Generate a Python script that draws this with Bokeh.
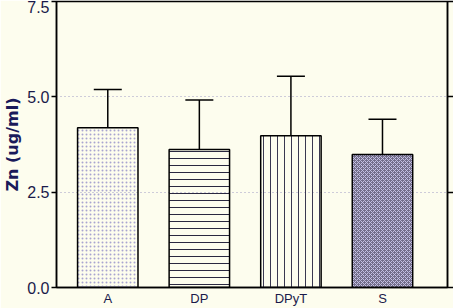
from bokeh.plotting import figure
from bokeh.models import ColumnDataSource, Whisker, TeeHead, LinearAxis, FixedTicker, Range1d
from bokeh.embed import file_html
from bokeh.resources import INLINE

categories = ["A", "DP", "DPyT", "S"]
means = [4.19, 3.62, 3.98, 3.49]
errors = [1.00, 1.30, 1.56, 0.92]
y_ticks = [0.0, 2.5, 5.0, 7.5]

fill_colors = [None, None, None, "#726d8a"]
hatches = [".", "-", "|", "x"]
hatch_colors = ["#a8a4d0", "#2a2840", "#3a3850", "#c4c0e4"]
hatch_scales = [4, 7, 7, 4]

xs = list(range(1, len(categories) + 1))
upper = [m + e for m, e in zip(means, errors)]

src = ColumnDataSource(dict(x=xs, top=means, upper=upper, fc=fill_colors,
                            hp=hatches, hc=hatch_colors, hs=hatch_scales))

p = figure(frame_width=391, frame_height=286, output_backend="svg", toolbar_location=None,
           x_range=Range1d(0.44, 4.71), y_range=Range1d(0, 7.5),
           min_border_left=40, min_border_right=6, min_border_top=1, min_border_bottom=2)
p.background_fill_color = "#fdfdee"
p.border_fill_color = "#fdfdee"
p.outline_line_color = "black"
p.outline_line_width = 1.5

p.vbar(x="x", top="top", width=0.66, bottom=0, source=src,
       fill_color="fc", line_color="black", line_width=1.5,
       hatch_pattern="hp", hatch_color="hc", hatch_scale="hs", hatch_weight=1)

w = Whisker(base="x", lower="top", upper="upper", source=src,
            line_color="black", line_width=1.5,
            upper_head=TeeHead(size=28, line_color="black", line_width=1.5),
            lower_head=None)
p.add_layout(w)

p.xgrid.grid_line_color = None
p.ygrid.ticker = FixedTicker(ticks=[2.5, 5.0])
p.ygrid.grid_line_color = "#9e9ac4"
p.ygrid.grid_line_dash = "1 3"
p.ygrid.grid_line_width = 1

ya = p.yaxis[0]
ya.ticker = FixedTicker(ticks=y_ticks)
ya.major_label_overrides = {t: f"{t:.1f}" for t in y_ticks}
ya.axis_label = "Zn (ug/ml)"
ya.axis_label_text_font = "DejaVu Sans"
ya.axis_label_text_font_style = "bold"
ya.axis_label_text_font_size = "16px"
ya.axis_label_text_color = "#1a1a5a"
ya.axis_label_standoff = 2
ya.major_label_text_font = "Liberation Sans"
ya.major_label_text_font_size = "16px"
ya.major_label_text_color = "#1a1a4a"
ya.major_label_standoff = 2
ya.major_tick_out = 5
ya.major_tick_in = 0
ya.minor_tick_line_color = None
ya.axis_line_width = 1.5
ya.major_tick_line_width = 1.5

xa = p.xaxis[0]
xa.ticker = FixedTicker(ticks=xs)
xa.major_label_overrides = {x: c for x, c in zip(xs, categories)}
xa.major_label_text_font = "Liberation Sans"
xa.major_label_text_font_size = "13px"
xa.major_label_text_color = "#1a1a4a"
xa.major_tick_line_color = None
xa.major_tick_out = 0
xa.major_tick_in = 0
xa.minor_tick_line_color = None
xa.major_label_standoff = 3
xa.axis_line_width = 1.5

ra = LinearAxis(ticker=FixedTicker(ticks=y_ticks))
ra.major_label_text_color = None
ra.major_label_text_font_size = "0px"
ra.major_label_standoff = 0
ra.major_tick_out = 6
ra.major_tick_in = 0
ra.minor_tick_line_color = None
ra.axis_line_width = 1.5
ra.major_tick_line_width = 1.5
p.add_layout(ra, "right")

open("out.html", "w").write(file_html(p, INLINE))
